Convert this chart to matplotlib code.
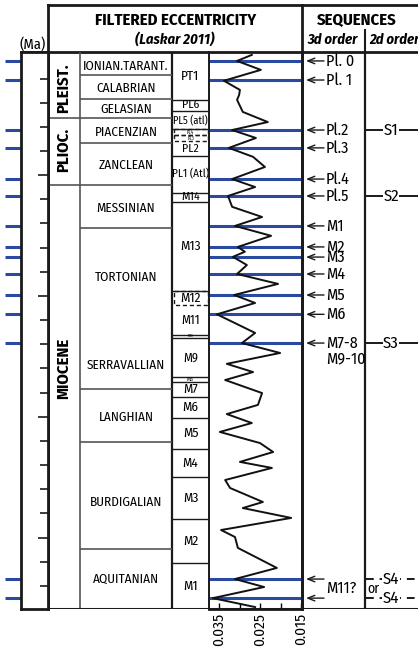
import matplotlib
matplotlib.use("Agg")
import matplotlib.pyplot as plt
from matplotlib.patches import Rectangle

plt.rcParams["font.family"] = ["Fira Sans Condensed", "DejaVu Sans"]

W, H = 418, 654
AGE_TOP, AGE_BOT = -0.10, 22.96
BLUE = "#2a4a9f"
GREY = "#555555"
INK = "#1a1a1a"

# ---- data (ages in Ma) ----
epochs = ["PLEIST.", "PLIOC.", "MIOCENE"]
epoch_bases = [2.64, 5.40, 22.96]
epoch_label_age = [1.39, 3.95, 13.0]

stages = ["IONIAN.TARANT.", "CALABRIAN", "GELASIAN", "PIACENZIAN", "ZANCLEAN",
          "MESSINIAN", "TORTONIAN", "SERRAVALLIAN", "LANGHIAN", "BURDIGALIAN",
          "AQUITANIAN"]
stage_label_age = [0.48, 1.39, 2.26, 3.24, 4.58, 6.36, 9.21, 12.86, 15.04, 18.56, 21.72]
stage_lines = [0.85, 1.84, 2.64, 3.65, 5.40, 7.17, 13.86, 16.03, 20.49]

zones = ["PT1", "PL6", "PL5 (atl)", "PL4", "PL3", "PL2", "PL1 (Atl)", "M14", "M13",
         "M12", "M11", "M10", "M9", "M8", "M7", "M6", "M5", "M4", "M3", "M2", "M1"]
zone_bases = [1.88, 2.33, 3.08, 3.35, 3.60, 4.20, 5.72, 6.10, 9.79, 10.37, 11.61,
              11.74, 13.36, 13.56, 14.18, 15.05, 16.33, 17.49, 19.23, 21.05, 22.96]
zone_font = [9.5, 8.5, 7.5, 3.5, 3.5, 8.5, 8, 8.5, 9.5, 9.5, 9, 2.5, 9, 4, 9.5,
             9.5, 9.5, 9.5, 9.5, 9.5, 9.5]
dashed_zones = ["PL4", "PL3", "M12"]

seq3_labels = ["Pl. 0", "Pl. 1", "Pl.2", "Pl.3", "Pl.4", "Pl.5", "M1", "M2", "M3",
               "M4", "M5", "M6", "M7-8", "", ""]
seq3_age = [0.27, 1.06, 3.13, 3.87, 5.16, 5.86, 7.10, 7.97, 8.39, 9.09, 9.96,
            10.76, 11.95, 21.72, 22.51]
seq2_labels = ["S1", "S2", "S3", "S4", "S4"]
seq2_age = [3.13, 5.86, 11.95, 21.72, 22.51]

ecc_age = [0.02, 0.27, 0.64, 1.09, 1.47, 1.68, 1.88, 2.38, 2.80, 3.13, 3.46, 3.87,
           4.24, 4.66, 5.16, 5.49, 5.86, 6.31, 6.73, 7.10, 7.51, 7.97, 8.17, 8.38,
           8.72, 9.09, 9.50, 9.96, 10.29, 10.76, 11.53, 11.95, 12.36, 12.81, 13.15,
           13.48, 14.02, 14.51, 14.89, 15.26, 15.63, 16.09, 16.46, 16.87, 17.12,
           17.62, 17.95, 18.53, 18.78, 19.19, 19.69, 19.98, 20.43, 21.26, 21.72,
           22.05, 22.51, 22.88]
ecc_val = [0.0270, 0.0306, 0.0248, 0.0338, 0.0299, 0.0301, 0.0306, 0.0292, 0.0231,
           0.0318, 0.0260, 0.0326, 0.0267, 0.0238, 0.0318, 0.0262, 0.0328, 0.0318,
           0.0245, 0.0311, 0.0223, 0.0304, 0.0287, 0.0316, 0.0282, 0.0306, 0.0206,
           0.0313, 0.0262, 0.0355, 0.0262, 0.0294, 0.0201, 0.0331, 0.0267, 0.0335,
           0.0245, 0.0255, 0.0331, 0.0270, 0.0348, 0.0250, 0.0218, 0.0299, 0.0221,
           0.0335, 0.0323, 0.0243, 0.0292, 0.0174, 0.0345, 0.0311, 0.0304, 0.0209,
           0.0311, 0.0240, 0.0365, 0.0262]

# ---- figure / layout ----
fig = plt.figure(figsize=(W / 100, H / 100), dpi=100)
bot = 1 - 609 / H
hgt = (609 - 52) / H

# header overlay in pixel units
axh = fig.add_axes([0, 0, 1, 1])
axh.set_xlim(0, W)
axh.set_ylim(H, 0)
axh.axis("off")

# column body: x in pixels, y in Ma
ax = fig.add_axes([0, bot, 1, hgt])
ax.set_xlim(0, W)
ax.set_ylim(AGE_BOT, AGE_TOP)
ax.axis("off")

# header frame
axh.plot([48, W], [5, 5], color=INK, lw=2)
axh.plot([48, 48], [5, 52], color=INK, lw=2)
axh.plot([302, 302], [5, 52], color=INK, lw=2)
axh.plot([365, 365], [30, 52], color=INK, lw=1.5)
axh.plot([21, W], [52, 52], color=INK, lw=2)
axh.text(176, 20, "FILTERED ECCENTRICITY", ha="center", va="center",
         fontsize=12, fontweight="bold")
axh.text(175, 39, "(Laskar 2011)", ha="center", va="center", fontsize=10.5,
         fontweight="bold", style="italic")
axh.text(357, 20, "SEQUENCES", ha="center", va="center", fontsize=12,
         fontweight="bold")
axh.text(333, 40, "3d order", ha="center", va="center", fontsize=10.5,
         fontweight="bold", style="italic")
axh.text(369, 40, "2d order", ha="left", va="center", fontsize=10.5,
         fontweight="bold", style="italic")
axh.text(33, 44, "(Ma)", ha="center", va="center", fontsize=10.5)

# vertical column dividers
ax.vlines(48, AGE_BOT, AGE_TOP, color=INK, lw=2)
ax.vlines(80, AGE_BOT, AGE_TOP, color=GREY, lw=1.2)
ax.vlines(172, AGE_BOT, AGE_TOP, color=INK, lw=1.6)
ax.vlines(302, AGE_BOT, AGE_TOP, color=INK, lw=2)
ax.vlines(365, AGE_BOT, AGE_TOP, color=INK, lw=1.6)
ax.hlines(AGE_BOT, 21, W, color=INK, lw=2.2)

# epochs
ax.hlines(epoch_bases[:2], 48, 80, color=GREY, lw=1.2)
for name, age in zip(epochs, epoch_label_age):
    ax.text(64, age, name, rotation=90, ha="center", va="center",
            fontsize=12, fontweight="bold")

# stages
ax.hlines(stage_lines, 80, 172, color=GREY, lw=1.2)
for name, age in zip(stages, stage_label_age):
    ax.text(126, age, name, ha="center", va="center", fontsize=9.5)

# zones
top = AGE_TOP
for name, base, fs in zip(zones, zone_bases, zone_font):
    if name in dashed_zones:
        ax.add_patch(Rectangle((173.5, top), 34, base - top, fill=False,
                               ls=(0, (3, 2)), lw=1, ec=INK))
    elif base < AGE_BOT:
        ax.hlines(base, 172, 209, color=INK, lw=1)
    ax.text(190.5, (top + base) / 2, name, ha="center", va="center", fontsize=fs)
    top = base

# time axis
axt = fig.add_axes([21 / W, bot, 27 / W, hgt])
axt.set_ylim(AGE_BOT, AGE_TOP)
axt.set_xticks([])
axt.set_yticks([5, 10, 15, 20])
axt.set_yticks(range(1, 23), minor=True)
axt.yaxis.tick_right()
axt.tick_params(axis="y", which="both", direction="in", labelright=False,
                labelleft=False, width=1.2, color=INK)
axt.tick_params(axis="y", which="major", length=7)
axt.tick_params(axis="y", which="minor", length=5.8)
for s in axt.spines.values():
    s.set_linewidth(2)
    s.set_color(INK)
for v in [5, 10, 15, 20]:
    ax.text(22.5, v, str(v), ha="left", va="center", fontsize=11)

# blue marks left of the time column
ax.hlines(seq3_age, 5, 21, color=BLUE, lw=2.2)

# eccentricity column
axe = fig.add_axes([209 / W, bot, 93 / W, hgt])
axe.patch.set_visible(False)
axe.set_ylim(AGE_BOT, AGE_TOP)
axe.set_xlim(0.03744, 0.01476)
axe.hlines(seq3_age, 0.03744, 0.01476, color=BLUE, lw=2.2, zorder=2)
axe.plot(ecc_val, ecc_age, color="#111111", lw=1.4, zorder=3)
axe.set_yticks([])
axe.set_xticks([0.035, 0.025, 0.015])
axe.set_xticklabels(["0.035", "0.025", "0.015"], rotation=90, fontsize=11)
axe.set_xticks([0.030, 0.020], minor=True)
axe.tick_params(axis="x", which="both", direction="in", length=4, width=1,
                pad=3)
for side, s in axe.spines.items():
    s.set_color(INK)
    s.set_linewidth(1.4 if side == "left" else 2)
axe.spines["top"].set_visible(False)

# 3d order sequences
for name, age in zip(seq3_labels, seq3_age):
    ax.annotate("", xy=(306, age), xytext=(324, age),
                arrowprops=dict(arrowstyle="->,head_length=0.5,head_width=0.2",
                                color=INK, lw=1, shrinkA=0, shrinkB=0))
    if name:
        ax.text(326, age, name, ha="left", va="center", fontsize=11.5)
ax.text(326, 12.6, "M9-10", ha="left", va="center", fontsize=11.5)
ax.text(326, (seq3_age[-2] + seq3_age[-1]) / 2, "M11?", ha="left", va="center",
        fontsize=11.5)

# 2d order sequences
for name, age in zip(seq2_labels, seq2_age):
    ls = (0, (4, 3)) if name == "S4" else "-"
    ax.hlines(age, 366, W, color=INK, lw=1.4, ls=ls)
    ax.text(391, age, name, ha="center", va="center", fontsize=12,
            bbox=dict(fc="white", ec="none", pad=0.2))
ax.text(373, (seq2_age[-2] + seq2_age[-1]) / 2, "or", ha="center",
        va="center", fontsize=10, bbox=dict(fc="white", ec="none", pad=0.2))

fig.savefig("out.png", dpi=100)
